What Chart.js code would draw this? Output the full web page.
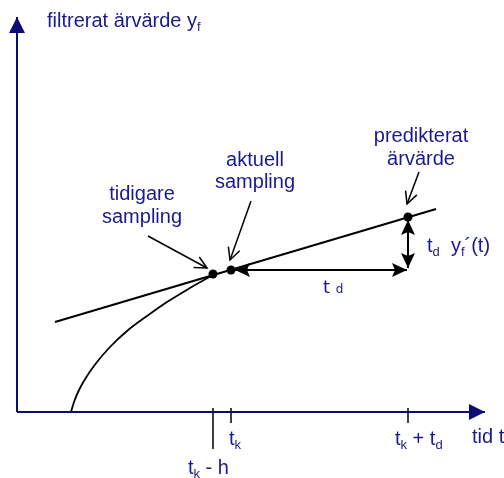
<!DOCTYPE html>
<html>
<head>
<meta charset="utf-8">
<script src="https://cdn.jsdelivr.net/npm/chart.js@4"></script>
<style>
  html, body { margin: 0; padding: 0; background: #ffffff; }
  #wrap { width: 504px; height: 478px; position: relative; }
</style>
</head>
<body>
<div id="wrap"><canvas id="c"></canvas></div>
<script>
// ---- Diagram values (time on x, filtered value on y; origin at axis crossing) ----
const timeTickNames = ['tk - h', 'tk', 'tk + td'];
const timeTickValues = [196, 214, 391];

// filtered signal y_f(t)
const curveX = [54, 57, 62, 70, 80, 93, 110, 130, 150, 173, 196];
const curveY = [0, 10, 22, 36, 50, 65, 81, 96, 110, 124, 137];

// tangent / prediction line through the samples
const tangentX = [38, 419];
const tangentY = [90, 203];

// sample points: previous, current, predicted
const sampleX = [196, 214, 391];
const sampleY = [138, 142, 195];

// td arrow (horizontal) and td*yf'(t) arrow (vertical)
const tdArrowX = [218, 390];
const tdArrowY = [142, 142];
const riseArrowX = [391, 391];
const riseArrowY = [144, 192];

// callout pointers [fromX, fromY, toX, toY]
const calloutPrev = [131, 176, 190, 144];
const calloutCurr = [234, 211, 213, 152];
const calloutPred = [402, 240, 390, 208];

// axes extents
const yAxisTop = 395;
const xAxisEnd = 468;

const TXT = '#1a1a8c';
const AX = '#0c0c72';
const FONT = '"Liberation Sans", Arial, sans-serif';

function seg(xs, ys) { return xs.map((x, i) => ({ x: x, y: ys[i] })); }
function callout(a) { return [{ x: a[0], y: a[1] }, { x: a[2], y: a[3] }]; }

const tickDatasets = timeTickValues.map((v, i) => ({
  data: [{ x: v, y: 4 }, { x: v, y: i === 0 ? -37 : -11 }],
  showLine: true, borderColor: '#000', borderWidth: 1.5, pointRadius: 0
}));

const datasets = [
  { data: [{ x: 0, y: 0 }, { x: 0, y: yAxisTop }], showLine: true, borderColor: AX, borderWidth: 2, pointRadius: 0, head: 'end', headStyle: 'axis' },
  { data: [{ x: 0, y: 0 }, { x: xAxisEnd, y: 0 }], showLine: true, borderColor: AX, borderWidth: 2, pointRadius: 0, head: 'end', headStyle: 'axis' },
  ...tickDatasets,
  { data: seg(curveX, curveY), showLine: true, borderColor: '#000', borderWidth: 1.8, pointRadius: 0, tension: 0.4, cubicInterpolationMode: 'monotone' },
  { data: seg(tangentX, tangentY), showLine: true, borderColor: '#000', borderWidth: 2, pointRadius: 0 },
  { data: seg(tdArrowX, tdArrowY), showLine: true, borderColor: '#000', borderWidth: 2, pointRadius: 0, head: 'both', headStyle: 'filled' },
  { data: seg(riseArrowX, riseArrowY), showLine: true, borderColor: '#000', borderWidth: 2, pointRadius: 0, head: 'both', headStyle: 'filled' },
  { data: callout(calloutPrev), showLine: true, borderColor: '#000', borderWidth: 1.5, pointRadius: 0, head: 'end', headStyle: 'open' },
  { data: callout(calloutCurr), showLine: true, borderColor: '#000', borderWidth: 1.5, pointRadius: 0, head: 'end', headStyle: 'open' },
  { data: callout(calloutPred), showLine: true, borderColor: '#000', borderWidth: 1.5, pointRadius: 0, head: 'end', headStyle: 'open' },
  { data: seg(sampleX, sampleY), showLine: false, pointRadius: 4.5, pointBackgroundColor: '#000', pointBorderColor: '#000', borderWidth: 0 }
];

// text labels: parts = [text, size, baselineShift]
const S = 20, s = 13, sub = 4;
const labels = [
  { parts: [['filtrerat ärvärde y', S, 0], ['f', s, sub]], x: 30, y: 385, align: 'left' },
  { parts: [['tidigare', S, 0]], x: 125, y: 212, align: 'center' },
  { parts: [['sampling', S, 0]], x: 125, y: 189, align: 'center' },
  { parts: [['aktuell', S, 0]], x: 238, y: 246, align: 'center' },
  { parts: [['sampling', S, 0]], x: 238, y: 224, align: 'center' },
  { parts: [['predikterat', S, 0]], x: 404, y: 270, align: 'center' },
  { parts: [['ärvärde', S, 0]], x: 404, y: 247, align: 'center' },
  { parts: [['t', S, 0], ['d', s, sub], ['  y', S, 0], ['f', s, sub], ['´(t)', S, 0]], x: 410, y: 160, align: 'left' },
  { parts: [['t ', 18, 0, 'DejaVu Sans'], ['d', 12, 0, 'DejaVu Sans']], x: 306, y: 119, align: 'left' },
  { parts: [['tid t', S, 0]], x: 455, y: -31, align: 'left' },
  { parts: [['t', S, 0], ['k', s, sub]], x: 212, y: -33, align: 'left' },
  { parts: [['t', S, 0], ['k', s, sub], [' + t', S, 0], ['d', s, sub]], x: 378, y: -33, align: 'left' },
  { parts: [['t', S, 0], ['k', s, sub], [' - h', S, 0]], x: 171, y: -62, align: 'left' }
];

function drawHead(ctx, tx, ty, fx, fy, style, color) {
  const ang = Math.atan2(ty - fy, tx - fx);
  ctx.save();
  ctx.translate(tx, ty);
  ctx.rotate(ang);
  ctx.fillStyle = color; ctx.strokeStyle = color;
  if (style === 'axis') {
    ctx.beginPath(); ctx.moveTo(0, 0); ctx.lineTo(-16, -8); ctx.lineTo(-16, 8); ctx.closePath(); ctx.fill();
  } else if (style === 'filled') {
    ctx.beginPath(); ctx.moveTo(0, 0); ctx.lineTo(-15, -7); ctx.lineTo(-12, 0); ctx.lineTo(-15, 7); ctx.closePath(); ctx.fill();
  } else {
    ctx.lineWidth = 1.5;
    ctx.beginPath(); ctx.moveTo(-12, -6); ctx.lineTo(0, 0); ctx.lineTo(-12, 6); ctx.stroke();
  }
  ctx.restore();
}

const diagramPlugin = {
  id: 'diagram',
  afterDatasetsDraw(chart) {
    const ctx = chart.ctx;
    const xs = chart.scales.x, ys = chart.scales.y;
    chart.data.datasets.forEach((ds, i) => {
      if (!ds.head) return;
      const pts = ds.data;
      const a = pts[0], b = pts[pts.length - 1];
      const ax = xs.getPixelForValue(a.x), ay = ys.getPixelForValue(a.y);
      const bx = xs.getPixelForValue(b.x), by = ys.getPixelForValue(b.y);
      drawHead(ctx, bx, by, ax, ay, ds.headStyle, ds.borderColor);
      if (ds.head === 'both') drawHead(ctx, ax, ay, bx, by, ds.headStyle, ds.borderColor);
    });
    ctx.save();
    ctx.fillStyle = TXT;
    ctx.textBaseline = 'alphabetic';
    ctx.textAlign = 'left';
    labels.forEach(l => {
      let total = 0;
      l.parts.forEach(p => { ctx.font = p[1] + 'px ' + (p[3] ? '"' + p[3] + '"' : FONT); total += ctx.measureText(p[0]).width; });
      let px = xs.getPixelForValue(l.x);
      const py = ys.getPixelForValue(l.y);
      if (l.align === 'center') px -= total / 2;
      l.parts.forEach(p => {
        ctx.font = p[1] + 'px ' + (p[3] ? '"' + p[3] + '"' : FONT);
        ctx.fillText(p[0], px, py + p[2]);
        px += ctx.measureText(p[0]).width;
      });
    });
    ctx.restore();
  }
};

new Chart(document.getElementById('c'), {
  type: 'scatter',
  data: { datasets: datasets },
  options: {
    responsive: true,
    maintainAspectRatio: false,
    animation: false,
    layout: { padding: 0, autoPadding: false },
    plugins: { legend: { display: false }, tooltip: { enabled: false }, title: { display: false } },
    elements: { line: { borderCapStyle: 'butt' } },
    scales: {
      x: { type: 'linear', min: -17, max: 487, display: false },
      y: { type: 'linear', min: -66, max: 412, display: false }
    }
  },
  plugins: [diagramPlugin]
});
</script>
</body>
</html>
